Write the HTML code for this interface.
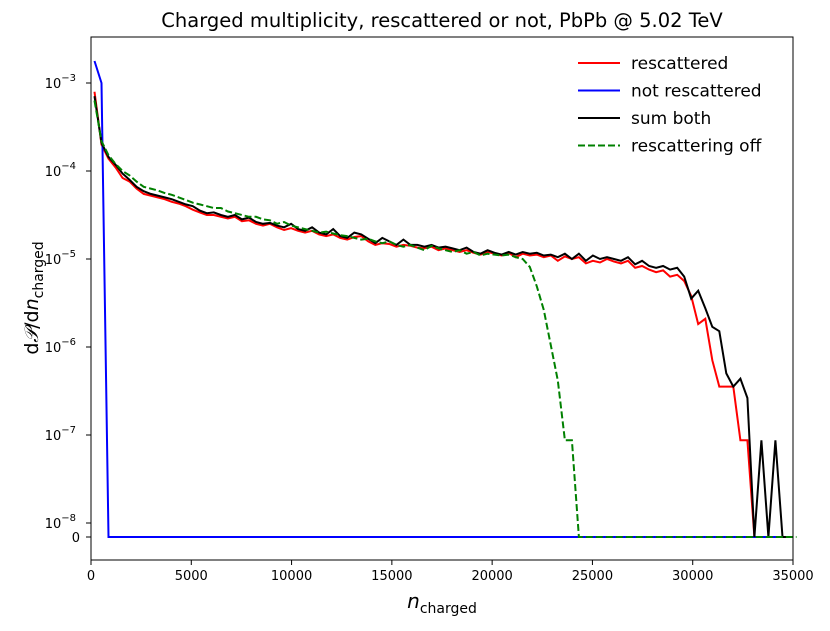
<!DOCTYPE html>
<html><head><meta charset="utf-8"><style>
body{margin:0;background:#fff;font-family:"DejaVu Sans","Liberation Sans",sans-serif}
svg text{font-family:"DejaVu Sans","Liberation Sans",sans-serif}
</style></head><body>
<svg id="chart" width="830" height="627" xmlns="http://www.w3.org/2000/svg">
<rect width="830" height="627" fill="#fff"/>
<text x="442" y="27" font-size="19.5" text-anchor="middle">Charged multiplicity, rescattered or not, PbPb @ 5.02 TeV</text>
<g id="plot"></g>
<rect x="91" y="37" width="702" height="523" fill="none" stroke="#000" stroke-width="1"/>
<g id="axes" font-size="13"></g>
<text x="442" y="608" font-size="20" text-anchor="middle"><tspan font-style="italic">n</tspan><tspan font-size="14" dy="5">charged</tspan></text>
<text transform="translate(38,298) rotate(-90)" font-size="19" text-anchor="middle">d<tspan font-style="italic" font-family="Liberation Serif">𝒫</tspan>/d<tspan font-style="italic">n</tspan><tspan font-size="14" dy="5">charged</tspan></text>
<g id="legend" font-size="17"></g>
</svg>
<script>
const binWidth = 350;
const xTicks = [0,5000,10000,15000,20000,25000,30000,35000];
const yTickExps = [-8,-7,-6,-5,-4,-3];
const seriesNames = ["rescattered","not rescattered","sum both","rescattering off"];
const seriesColors = ["#ff0000","#0000ff","#000000","#008000"];
const N = null;
// log10 of dP/dn per bin (null = 0)
const redLog = [-3.1,-3.7,-3.86,-3.96,-4.08,-4.12,-4.2,-4.26,-4.28,-4.3,
-4.32,-4.35,-4.37,-4.4,-4.44,-4.47,-4.5,-4.5,-4.52,-4.54,
-4.52,-4.57,-4.56,-4.6,-4.62,-4.6,-4.64,-4.67,-4.65,-4.68,
-4.7,-4.68,-4.72,-4.74,-4.72,-4.76,-4.78,-4.75,-4.74,-4.8,
-4.84,-4.82,-4.83,-4.86,-4.84,-4.85,-4.87,-4.88,-4.86,-4.9,
-4.88,-4.9,-4.92,-4.9,-4.93,-4.95,-4.92,-4.94,-4.96,-4.93,
-4.98,-4.94,-4.96,-4.95,-4.98,-4.96,-5.02,-4.97,-5.0,-4.98,
-5.05,-5.02,-5.04,-5.0,-5.03,-5.05,-5.02,-5.1,-5.08,-5.12,
-5.15,-5.13,-5.2,-5.18,-5.25,-5.42,-5.74,-5.68,-6.15,-6.45,
-6.45,-6.45,-7.06,-7.06,N,N,N,N,N,N];
const blueLog = [-2.75,-3.0,N,N,N,N,N,N,N,N,N,N,N,N,N,N,N,N,N,N,N,N,N,N,N,N,N,N,N,N,N,N,N,N,N,N,N,N,N,N,N,N,N,N,N,N,N,N,N,N,N,N,N,N,N,N,N,N,N,N,N,N,N,N,N,N,N,N,N,N,N,N,N,N,N,N,N,N,N,N,N,N,N,N,N,N,N,N,N,N,N,N,N,N,N,N,N,N,N,N];
const blackLog = [-3.15,-3.68,-3.84,-3.93,-4.03,-4.1,-4.18,-4.23,-4.26,-4.28,
-4.3,-4.32,-4.35,-4.38,-4.4,-4.45,-4.48,-4.47,-4.5,-4.52,
-4.5,-4.55,-4.53,-4.58,-4.6,-4.59,-4.62,-4.64,-4.6,-4.66,
-4.68,-4.64,-4.7,-4.72,-4.66,-4.74,-4.76,-4.7,-4.72,-4.77,
-4.82,-4.76,-4.8,-4.84,-4.78,-4.84,-4.84,-4.86,-4.84,-4.87,
-4.86,-4.88,-4.9,-4.87,-4.92,-4.94,-4.9,-4.93,-4.95,-4.92,
-4.95,-4.92,-4.94,-4.93,-4.96,-4.95,-4.98,-4.94,-5.0,-4.94,
-5.02,-4.96,-5.0,-4.98,-5.0,-5.02,-4.98,-5.06,-5.02,-5.08,
-5.1,-5.08,-5.12,-5.1,-5.2,-5.45,-5.36,-5.56,-5.77,-5.82,
-6.3,-6.45,-6.36,-6.58,N,-7.06,N,-7.06,N,N];
const greenLog = [-3.2,-3.66,-3.82,-3.92,-4.0,-4.05,-4.12,-4.18,-4.2,-4.22,
-4.25,-4.27,-4.3,-4.33,-4.36,-4.38,-4.4,-4.42,-4.42,-4.46,
-4.48,-4.5,-4.52,-4.52,-4.55,-4.56,-4.6,-4.58,-4.62,-4.64,
-4.66,-4.68,-4.7,-4.69,-4.71,-4.73,-4.74,-4.76,-4.78,-4.77,
-4.8,-4.82,-4.8,-4.84,-4.86,-4.84,-4.87,-4.9,-4.85,-4.88,
-4.9,-4.92,-4.9,-4.94,-4.92,-4.96,-4.94,-4.95,-4.96,-4.95,
-4.98,-5.0,-5.09,-5.31,-5.58,-5.98,-6.38,-7.06,-7.06,N,N,N,N,N,N,N,N,N,N,N,N,N,N,N,N,N,N,N,N,N,N,N,N,N,N,N,N,N,N,N,N];

const X0=91, X1=793;
function xs(n){return X0+(n/35000)*(X1-X0);}
function ys(lg){ if(lg===null) return 537; return 259-88*(lg+5); }
const svgNS="http://www.w3.org/2000/svg";
const plot=document.getElementById('plot');
function mk(t,attrs,parent){const e=document.createElementNS(svgNS,t);for(const k in attrs)e.setAttribute(k,attrs[k]);parent.appendChild(e);return e;}
function drawSeries(arr,color,dash,name){
  const pts=arr.map((v,i)=>xs(binWidth*i+binWidth/2).toFixed(1)+","+ys(v).toFixed(1)).join(" ");
  const p=mk('polyline',{points:pts,fill:"none",stroke:color,"stroke-width":2,"stroke-linejoin":"miter"},plot);
  if(dash)p.setAttribute('stroke-dasharray',dash);
  
  
}
drawSeries(redLog,seriesColors[0],null,'series-rescattered');
drawSeries(blueLog,seriesColors[1],null,'series-not-rescattered');
drawSeries(blackLog,seriesColors[2],null,'series-sum-both');
drawSeries(greenLog,seriesColors[3],"7,3",'series-rescattering-off');

const axes=document.getElementById('axes');
xTicks.forEach(t=>{
  const x=xs(t);
  const l=mk('line',{x1:x,x2:x,y1:560,y2:565,stroke:"#000"},axes);
  
  
  const tx=mk('text',{x:x,y:580,"text-anchor":"middle"},axes);tx.textContent=t;
  
  
});
function ytick(y,label,sup){
  const l=mk('line',{x1:86,x2:91,y1:y,y2:y,stroke:"#000"},axes);
  
  
  const tx=mk('text',{x:sup?76:80,y:y+5,"text-anchor":"end"},axes);
  
  
  tx.textContent=label;
  if(sup){const s=mk('tspan',{dy:-7,"font-size":"10"},tx);s.textContent=sup;}
}
ytick(537,"0",null);
yTickExps.forEach(e=>ytick(ys(e),"10",String(e).replace('-','\u2212')));

const lg=document.getElementById('legend');
seriesNames.forEach((nm,i)=>{
  const y=63+i*27.5;
  const l=mk('line',{x1:578,x2:620,y1:y,y2:y,stroke:seriesColors[i],"stroke-width":2},lg);
  if(i===3)l.setAttribute('stroke-dasharray','7,3');
  
  
  const t=mk('text',{x:631,y:y+6},lg);t.textContent=nm;
  
  
});
</script>
</body></html>
